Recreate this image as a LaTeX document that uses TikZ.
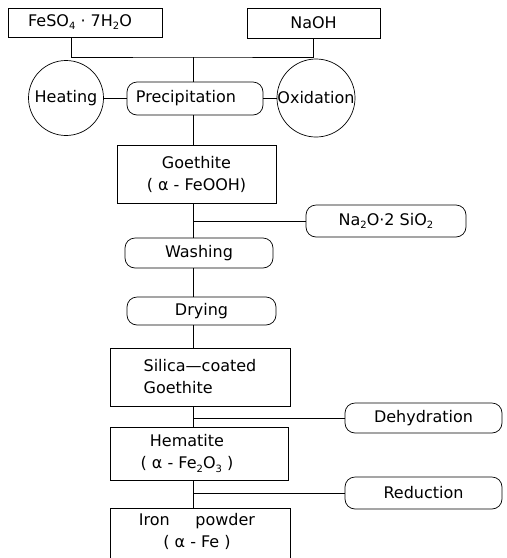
\documentclass[tikz,border=0pt]{standalone}
\usepackage{fontspec}
\setmainfont{DejaVu Sans}
\newcommand{\sbs}[1]{\raisebox{-0.35ex}{\fontsize{10}{10}\selectfont #1}}
\begin{document}
\begin{tikzpicture}[x=1pt,y=-1pt, line width=0.7pt,
  font=\fontsize{16}{22}\selectfont,
  box/.style={draw, rectangle, inner sep=0pt, align=center},
  proc/.style={draw, rectangle, rounded corners=10pt, inner sep=0pt, align=center},
  circ/.style={draw, circle, inner sep=0pt}]
\useasboundingbox (0,0) rectangle (507,558);
\fill[white] (0,0) rectangle (507,558);
% nodes
\node[box, minimum width=154, minimum height=29] (fe) at (85,22.5) {FeSO\sbs{4} · 7H\sbs{2}O\hspace*{10pt}};
\node[box, minimum width=133, minimum height=30] (naoh) at (313.5,23) {NaOH};
\node[proc, minimum width=136, minimum height=33] (prec) at (195,98.5) {Precipitation\hspace*{18pt}};
\node[circ, minimum size=75] (heat) at (66,98) {Heating};
\node[circ, minimum size=78] (oxid) at (316,98) {Oxidation};
\node[box, minimum width=159, minimum height=58] (goe) at (196.5,174) {Goethite\\( α - FeOOH)};
\node[proc, minimum width=160, minimum height=32] (na2o) at (386,221) {Na\sbs{2}O·2 SiO\sbs{2}};
\node[proc, minimum width=148, minimum height=30] (wash) at (199,253) {Washing};
\node[proc, minimum width=149, minimum height=28] (dry) at (201.5,311) {Drying};
\node[box, minimum width=180, minimum height=58, align=left] (sil) at (200,377) {Silica—coated\\Goethite};
\node[proc, minimum width=157, minimum height=30] (deh) at (423.5,418) {Dehydration};
\node[box, minimum width=178, minimum height=53] (hem) at (199,453.5) {Hematite\hspace*{24pt}\\( α - Fe\sbs{2}O\sbs{3} )\hspace*{24pt}};
\node[proc, minimum width=157, minimum height=32] (red) at (423.5,493) {Reduction};
\node[box, minimum width=180, minimum height=80, anchor=north] (ironbox) at (200,508) {};
\node[align=center, inner sep=0pt] (iron) at (197,531) {Iron\hspace{1.6em}powder\\( α - Fe )};
% connectors
\coordinate (sp) at (193,0);
\coordinate (j) at (193,57);
\draw ([xshift=-14pt]fe.south) |- (j) -| (naoh.south);
\draw (j) -- (j |- prec.north);
\draw (heat.east) -- (heat.east -| prec.west);
\draw (prec.east) -- (prec.east -| oxid.west);
\draw (sp |- prec.south) -- (sp |- goe.north);
\draw (sp |- goe.south) -- (sp |- wash.north);
\draw (sp |- na2o.west) -- (na2o.west);
\draw (sp |- wash.south) -- (sp |- dry.north);
\draw (sp |- dry.south) -- (sp |- sil.north);
\draw (sp |- sil.south) -- (sp |- hem.north);
\draw (sp |- deh.west) -- (deh.west);
\draw (sp |- hem.south) -- (sp |- ironbox.north);
\draw (sp |- red.west) -- (red.west);
\end{tikzpicture}
\end{document}
